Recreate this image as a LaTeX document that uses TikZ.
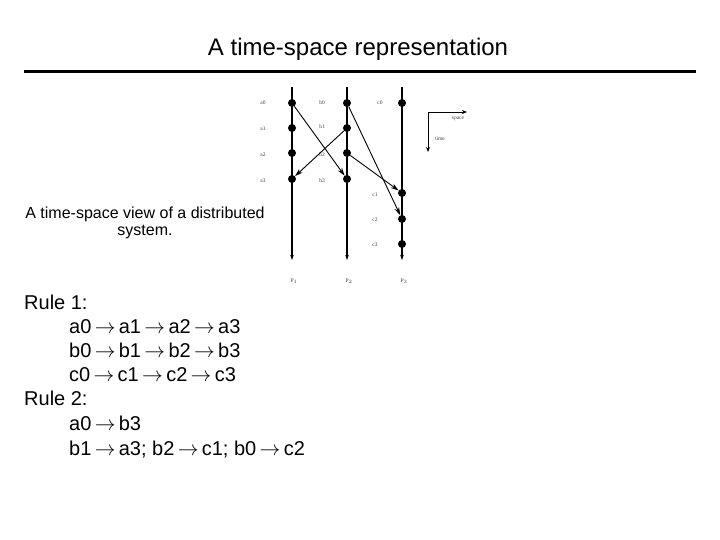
\documentclass[tikz,border=0pt]{standalone}
\usepackage{fontspec}
\setmainfont{Liberation Sans}
\newfontfamily\tinyserif{Liberation Serif}
\usetikzlibrary{arrows.meta}
\newcommand{\ar}{\,$\rightarrow$\,}
\begin{document}
\begin{tikzpicture}[x=1pt,y=-1pt,
  ev/.style={circle,fill=black,inner sep=0pt,minimum size=8pt},
  lab/.style={font=\tinyserif\fontsize{5.5}{6}\selectfont,text=black!75,inner sep=0pt},
  proc/.style={line width=1.1pt,-{Stealth[length=5pt,width=3.5pt]}},
  msg/.style={line width=0.9pt,-{Stealth[length=8pt,width=5pt]}},
  big/.style={font=\fontsize{20}{24}\selectfont,anchor=base west,inner sep=0pt}]
\useasboundingbox (0,0) rectangle (720,540);
% title
\node[font=\fontsize{24}{28}\selectfont] (title) at (358,49) {A time-space representation};
\coordinate (rl) at (24,72); \coordinate (rr) at (696,72);
\draw[line width=3pt] (rl) -- (rr);
% process lines
\foreach \n/\x in {1/292,2/347,3/402}{
  \coordinate (t\n) at (\x,87); \coordinate (e\n) at (\x,260);
  \draw[proc] (t\n) -- (e\n);
}
% events
\node[ev] (a0) at (292,103) {}; \node[ev] (a1) at (292,128) {};
\node[ev] (a2) at (292,153) {}; \node[ev] (a3) at (292,179) {};
\node[ev] (b0) at (347,103) {}; \node[ev] (b1) at (347,128) {};
\node[ev] (b2) at (347,153) {}; \node[ev] (b3) at (347,179) {};
\node[ev] (c0) at (402,103) {}; \node[ev] (c1) at (402,193) {};
\node[ev] (c2) at (402,219) {}; \node[ev] (c3) at (402,244) {};
% labels
\node[lab] (la0) at (263,103) {a0}; \node[lab] (la1) at (263,129) {a1};
\node[lab] (la2) at (263,155) {a2}; \node[lab] (la3) at (263,181) {a3};
\node[lab] (lb0) at (322,103) {b0}; \node[lab] (lb1) at (322,127) {b1};
\node[lab] (lb2) at (322,155) {b2}; \node[lab] (lb3) at (322,181) {b3};
\node[lab] (lc0) at (380,103) {c0}; \node[lab] (lc1) at (375,195) {c1};
\node[lab] (lc2) at (375,220) {c2}; \node[lab] (lc3) at (375,245) {c3};
\node[lab] (p1) at (294,281) {P$_1$};
\node[lab] (p2) at (349,281) {P$_2$};
\node[lab] (p3) at (404,281) {P$_3$};
% messages
\draw[msg] (a0) -- (b3);
\draw[msg] (b1) -- (a3);
\draw[msg] (b2) -- (c1);
\draw[msg] (b0) -- (c2);
% axes
\coordinate (o) at (428,112); \coordinate (sp) at (467,112); \coordinate (tm) at (428,152);
\draw[line width=0.9pt,-{Stealth[length=5pt,width=4pt]}] (o) -- (sp);
\draw[line width=0.9pt,-{Stealth[length=5pt,width=4pt]}] (o) -- (tm);
\node[lab] (lsp) at (458,119) {space};
\node[lab] (ltm) at (440,139) {time};
% left caption
\node[font=\fontsize{16}{17}\selectfont,align=center] (cap) at (145,223) {A time-space view of a distributed\\system.};
% rules
\node[big] (r1) at (24,309) {Rule 1:};
\node[big] (r11) at (69,333) {a0\ar a1\ar a2\ar a3};
\node[big] (r12) at (69,357) {b0\ar b1\ar b2\ar b3};
\node[big] (r13) at (69,381) {c0\ar c1\ar c2\ar c3};
\node[big] (r2) at (24,405) {Rule 2:};
\node[big] (r21) at (69,430) {a0\ar b3};
\node[big] (r22) at (69,455) {b1\ar a3; b2\ar c1; b0\ar c2};
\end{tikzpicture}
\end{document}
